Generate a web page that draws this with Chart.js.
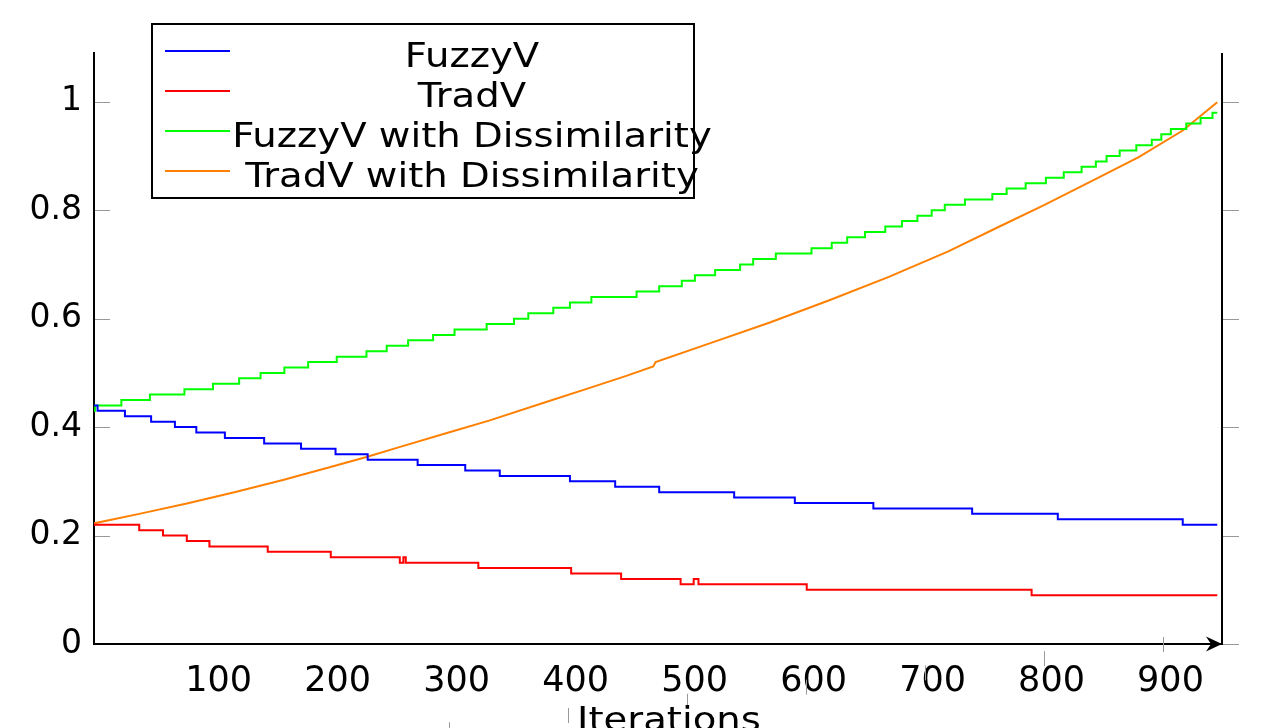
<!DOCTYPE html>
<html>
<head>
<meta charset="utf-8">
<script src="https://cdn.jsdelivr.net/npm/chart.js@4.4.0/dist/chart.umd.min.js"></script>
<style>
  html, body { margin: 0; padding: 0; background: #fff; }
  #chart { display: block; }
</style>
</head>
<body>
<canvas id="chart" width="1273" height="728"></canvas>
<script>
// values (step start positions and levels)
const fuzzyX = [1, 5, 28, 50, 70, 88, 112, 145, 176, 205, 232, 274, 314, 343, 402, 440, 477, 540, 591, 657, 740, 812, 917, 946];
const fuzzyY = [0.44, 0.43, 0.42, 0.41, 0.40, 0.39, 0.38, 0.37, 0.36, 0.35, 0.34, 0.33, 0.32, 0.31, 0.30, 0.29, 0.28, 0.27, 0.26, 0.25, 0.24, 0.23, 0.22, 0.22];

const tradX = [1, 40, 60, 80, 99, 148, 201, 259, 262, 264, 325, 403, 445, 495, 506, 510, 601, 790, 946];
const tradY = [0.22, 0.21, 0.20, 0.19, 0.18, 0.17, 0.16, 0.15, 0.16, 0.15, 0.14, 0.13, 0.12, 0.11, 0.12, 0.11, 0.10, 0.09, 0.09];

const fuzzyDisX = [1, 3, 25, 49, 78, 102, 124, 142, 162, 182, 206, 231, 248, 266, 287, 305, 332, 355, 367, 388, 402, 420, 458, 477, 496, 507, 524, 545, 556, 575, 605, 622, 635, 650, 667, 681, 694, 706, 717, 734, 757, 769, 785, 802, 817, 832, 844, 853, 864, 878, 891, 899, 907, 920, 932, 942, 946];
const fuzzyDisY = [0.43, 0.44, 0.45, 0.46, 0.47, 0.48, 0.49, 0.50, 0.51, 0.52, 0.53, 0.54, 0.55, 0.56, 0.57, 0.58, 0.59, 0.60, 0.61, 0.62, 0.63, 0.64, 0.65, 0.66, 0.67, 0.68, 0.69, 0.70, 0.71, 0.72, 0.73, 0.74, 0.75, 0.76, 0.77, 0.78, 0.79, 0.80, 0.81, 0.82, 0.83, 0.84, 0.85, 0.86, 0.87, 0.88, 0.89, 0.90, 0.91, 0.92, 0.93, 0.94, 0.95, 0.96, 0.97, 0.98, 0.98];

const tradDisX = [1, 40, 80, 120, 160, 200, 231, 260, 300, 334, 380, 418, 450, 472, 474, 520, 570, 620, 670, 720, 763, 800, 847, 880, 917, 946];
const tradDisY = [0.222, 0.240, 0.259, 0.280, 0.302, 0.326, 0.345, 0.364, 0.390, 0.412, 0.445, 0.472, 0.495, 0.512, 0.520, 0.555, 0.593, 0.634, 0.677, 0.724, 0.770, 0.809, 0.861, 0.898, 0.947, 0.999];

const xTicks = [100, 200, 300, 400, 500, 600, 700, 800, 900];
const yTicks = [0, 0.2, 0.4, 0.6, 0.8, 1];
const xTitle = 'Iterations';

function pts(xs, ys) {
    return xs.map((x, i) => ({ x: x, y: ys[i] }));
}

// text in the picture is drawn a bit wider than normal
const stretch = 1.17;
function wideText(ctx, text, cx, y) {
    ctx.save();
    ctx.translate(cx, y);
    ctx.scale(stretch, 1);
    ctx.textAlign = 'center';
    ctx.textBaseline = 'alphabetic';
    ctx.fillText(text, 0, 0);
    ctx.restore();
}

function seg(ctx, x1, y1, x2, y2) {
    ctx.beginPath();
    ctx.moveTo(x1, y1);
    ctx.lineTo(x2, y2);
    ctx.stroke();
}

// right axis, tick marks, arrow, boxed legend and axis title
const frame = {
    id: 'frame',
    afterDatasetsDraw(chart) {
        const ctx = chart.ctx;
        const a = chart.chartArea;
        const xs = chart.scales.x;
        const ys = chart.scales.y;
        ctx.save();

        ctx.strokeStyle = '#000';
        ctx.lineWidth = 2;
        seg(ctx, a.right, a.top, a.right, a.bottom);

        ctx.strokeStyle = '#999';
        ctx.lineWidth = 1;
        yTicks.forEach(v => {
            const y = Math.round(ys.getPixelForValue(v)) + 0.5;
            if (v > 0) seg(ctx, a.left + 1, y, a.left + 16, y);
            seg(ctx, a.right + 1, y, a.right + 17, y);
        });
        xTicks.forEach(v => {
            const x = Math.round(xs.getPixelForValue(v)) + 0.5;
            const y0 = a.bottom - 7 + (900 - v) * 0.142;
            seg(ctx, x, y0, x, y0 + 15);
        });

        // arrow head on x axis
        ctx.fillStyle = '#000';
        ctx.beginPath();
        ctx.moveTo(a.right, a.bottom);
        ctx.lineTo(a.right - 16, a.bottom - 7.5);
        ctx.lineTo(a.right - 11, a.bottom);
        ctx.lineTo(a.right - 16, a.bottom + 7.5);
        ctx.closePath();
        ctx.fill();

        // legend
        ctx.fillStyle = '#fff';
        ctx.fillRect(152, 24, 542, 174);
        ctx.strokeStyle = '#000';
        ctx.lineWidth = 2;
        ctx.strokeRect(152, 24, 542, 174);
        ctx.font = '33px "DejaVu Sans"';
        chart.data.datasets.forEach((ds, i) => {
            const base = 67 + 40 * i;
            ctx.strokeStyle = ds.borderColor;
            ctx.lineWidth = 2;
            seg(ctx, 165, base - 16, 230, base - 16);
            ctx.fillStyle = '#000';
            wideText(ctx, ds.label, 472, base);
        });

        ctx.fillStyle = '#000';
        wideText(ctx, xTitle, 669, 731);
        ctx.restore();
    }
};

new Chart(document.getElementById('chart'), {
    type: 'line',
    data: {
        datasets: [
            { label: 'FuzzyV', data: pts(fuzzyX, fuzzyY), borderColor: '#0000ff', stepped: 'before' },
            { label: 'TradV', data: pts(tradX, tradY), borderColor: '#ff0000', stepped: 'before' },
            { label: 'FuzzyV with Dissimilarity', data: pts(fuzzyDisX, fuzzyDisY), borderColor: '#00ff00', stepped: 'before' },
            { label: 'TradV with Dissimilarity', data: pts(tradDisX, tradDisY), borderColor: '#ff8000', tension: 0 }
        ]
    },
    options: {
        responsive: false,
        animation: false,
        devicePixelRatio: 1,
        layout: { padding: { top: 53, right: 51, left: 0, bottom: 0 } },
        plugins: { legend: { display: false }, tooltip: { enabled: false } },
        elements: { point: { radius: 0 }, line: { borderWidth: 2, fill: false } },
        scales: {
            x: {
                type: 'linear',
                min: 2,
                max: 950,
                afterBuildTicks: s => { s.ticks = xTicks.map(v => ({ value: v })); },
                afterFit: s => { s.height = 84; },
                grid: { display: false, drawTicks: false },
                border: { display: true, color: '#000', width: 2 },
                ticks: {
                    color: '#000',
                    font: { family: 'DejaVu Sans', size: 35 },
                    padding: 17,
                    labelOffset: 8,
                    maxRotation: 0,
                    autoSkip: false,
                    callback: v => String(v)
                }
            },
            y: {
                min: 0,
                max: 1.09,
                afterBuildTicks: s => { s.ticks = yTicks.map(v => ({ value: v })); },
                afterFit: s => { s.width = 94; },
                grid: { display: false, drawTicks: false },
                border: { display: true, color: '#000', width: 2 },
                ticks: {
                    color: '#000',
                    font: { family: 'DejaVu Sans', size: 33 },
                    padding: 12,
                    callback: v => String(v)
                }
            }
        }
    },
    plugins: [frame]
});
</script>
</body>
</html>
